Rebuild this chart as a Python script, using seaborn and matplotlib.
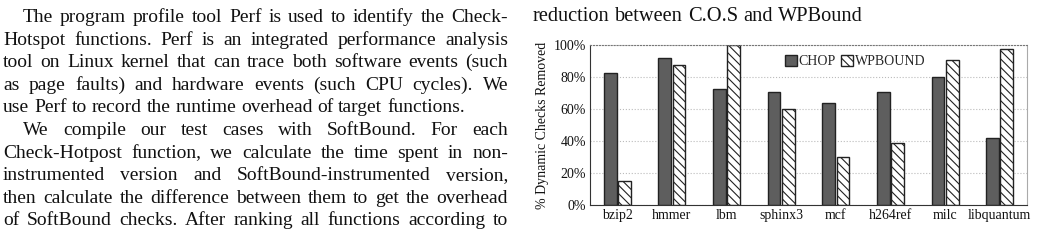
import pandas as pd
import seaborn as sns
import matplotlib
matplotlib.use("Agg")
from matplotlib import pyplot as plt
from matplotlib.patches import Patch

# chart data
benchmarks = ["bzip2", "hmmer", "lbm", "sphinx3", "mcf", "h264ref", "milc", "libquantum"]
chop = [82.5, 92, 72.5, 70.5, 64, 70.5, 80, 42]
wpbound = [15, 87.5, 100, 60, 30, 38.5, 90.5, 97.5]
yticks = [0, 20, 40, 60, 80, 100]

# surrounding page text
para_lines = [
    ("The program profile tool Perf is used to identify the Check-", True, True),
    ("Hotspot functions. Perf is an integrated performance analysis", False, True),
    ("tool on Linux kernel that can trace both software events (such", False, True),
    ("as page faults) and hardware events (such CPU cycles). We", False, True),
    ("use Perf to record the runtime overhead of target functions.", False, False),
    ("We compile our test cases with SoftBound. For each", True, True),
    ("Check-Hotpost function, we calculate the time spent in non-", False, True),
    ("instrumented version and SoftBound-instrumented version,", False, True),
    ("then calculate the difference between them to get the overhead", False, True),
    ("of SoftBound checks. After ranking all functions according to", False, True),
]
caption = "reduction between C.O.S and WPBound"

sns.set_style("white")
plt.rcParams["font.family"] = ["Liberation Serif", "DejaVu Serif"]
plt.rcParams["hatch.linewidth"] = 0.8

W, H = 1038, 242
fig = plt.figure(figsize=(W / 100, H / 100), dpi=100)
renderer = fig.canvas.get_renderer()

TXT = "#111111"


def px(x, y):
    return x / W, 1 - y / H


def put_line(text, x0, x1, y, justify, size=14):
    words = text.split(" ")
    objs = [fig.text(0, 0, w, fontsize=size, color=TXT, va="baseline") for w in words]
    widths = [t.get_window_extent(renderer).width for t in objs]
    if justify and len(words) > 1:
        gap = (x1 - x0 - sum(widths)) / (len(words) - 1)
    else:
        probe = fig.text(0, 0, "a a", fontsize=size)
        probe2 = fig.text(0, 0, "aa", fontsize=size)
        gap = probe.get_window_extent(renderer).width - probe2.get_window_extent(renderer).width
        probe.remove()
        probe2.remove()
    x = x0
    for t, w in zip(objs, widths):
        t.set_position(px(x, y))
        x += w + gap


#left column paragraph
left, right, indent = 3, 508, 20
base, step = 22, 22.6
for i, (line, ind, just) in enumerate(para_lines):
    put_line(line, left + (indent if ind else 0), right, base + i * step, just)

#figure caption fragment
put_line(caption, 533, 1000, base - 1, False, size=14.7)

#bar chart
ax = fig.add_axes([590 / W, 37 / H, 437 / W, 160 / H])
df = pd.DataFrame({
    "bench": benchmarks * 2,
    "value": chop + wpbound,
    "tool": ["CHOP"] * len(chop) + ["WPBOUND"] * len(wpbound),
})
sns.barplot(data=df, x="bench", y="value", hue="tool", palette=["#5e5e5e", "white"],
            width=0.52, gap=0.1, edgecolor="#222222", linewidth=1.0, ax=ax, legend=False)
for bar in ax.containers[1]:
    bar.set_hatch("\\\\\\\\")

ax.set_ylim(0, 100)
ax.set_xlim(-0.5, len(benchmarks) - 0.5)
ax.set_yticks(yticks)
ax.set_yticklabels([f"{v}%" for v in yticks], fontsize=10, color=TXT)
ax.set_xticks(range(len(benchmarks)))
ax.set_xticklabels(benchmarks, fontsize=10, color=TXT)
ax.tick_params(length=0, pad=3)
ax.set_xlabel("")
ax.set_ylabel("% Dynamic Checks Removed", fontsize=10, color=TXT, labelpad=3)

ax.yaxis.grid(True, linestyle=":", color="#bbbbbb", linewidth=0.8)
ax.set_axisbelow(True)
ax.spines["left"].set_color("#333333")
ax.spines["bottom"].set_color("#333333")
ax.spines["top"].set_linestyle(":")
ax.spines["top"].set_color("#777777")
ax.spines["right"].set_color("#aaaaaa")

handles = [Patch(facecolor="#5e5e5e", edgecolor="#222222", label="CHOP"),
           Patch(facecolor="white", edgecolor="#222222", hatch="\\\\\\\\", label="WPBOUND")]
ax.legend(handles=handles, loc="center", bbox_to_anchor=(0.607, 0.896), ncol=2, frameon=False,
          fontsize=10, handlelength=0.8, handleheight=0.8, handletextpad=0.15,
          columnspacing=0.4, borderpad=0)

fig.savefig("out.png", dpi=100)
